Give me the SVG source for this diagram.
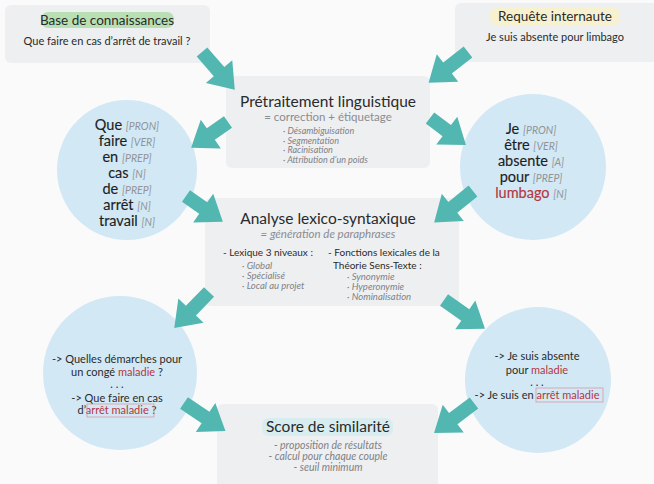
<svg xmlns="http://www.w3.org/2000/svg" width="654" height="484" viewBox="0 0 654 484">
<style>
.bg{fill:#fafafa}
.box{fill:#eeeff1}
.circ{fill:#d2e8f5}
.arr{fill:#52b7b1}
text{font-family:Lato,"Open Sans","Liberation Sans",sans-serif;fill:#2a2a2a}
.h{font-size:15.5px;text-anchor:middle}
.h2{font-size:13.5px;text-anchor:middle}
.s{font-size:11px;text-anchor:middle}
.sub{font-size:11.5px;fill:#8a8c90;text-anchor:middle}
.it{font-style:italic}
.b{font-size:9px;font-style:italic;fill:#7f8185}
.w{font-size:14.5px;text-anchor:middle;fill:#1e1e1e;stroke:#1e1e1e;stroke-width:0.15}
.t{font-size:10.5px;font-style:italic;fill:#909398;stroke:none}
.red{fill:#b5363e}
.redw{fill:#b5363e;stroke:#b5363e}
.m{font-size:10px}
.mark{fill:none;stroke:#d49aa0;stroke-width:0.8}
</style>
<defs>
<path id="a50" d="M0,-7 L26,-7 L26,-17.5 L50,0 L26,17.5 L26,7 L0,7 Z"/>
<path id="a45" d="M0,-7 L21,-7 L21,-17.5 L45,0 L21,17.5 L21,7 L0,7 Z"/>
</defs>
<rect class="bg" x="0" y="0" width="654" height="484"/>

<g id="base">
<rect class="box" x="5" y="5" width="205" height="58" rx="6"/>
<rect x="41" y="12" width="133" height="16" rx="7" fill="#b9e0b4"/>
<text class="h2" x="107" y="25">Base de connaissances</text>
<text class="s" x="107" y="45">Que faire en cas d’arrêt de travail ?</text>
</g>

<g id="requete">
<rect class="box" x="455" y="3" width="205" height="59" rx="6"/>
<rect x="490" y="8" width="130" height="17" rx="7" fill="#f8f1cf"/>
<text class="h2" x="555" y="21">Requête internaute</text>
<text class="s" x="555" y="41">Je suis absente pour limbago</text>
</g>

<g id="pretraitement">
<rect class="box" x="226" y="76" width="204" height="92" rx="6"/>
<text class="h" x="328" y="107">Prétraitement linguistique</text>
<text class="sub" x="328" y="121">= correction + étiquetage</text>
<text class="b" x="283" y="134">· Désambiguisation</text>
<text class="b" x="283" y="143.5">· Segmentation</text>
<text class="b" x="283" y="153">· Racinisation</text>
<text class="b" x="283" y="162.5">· Attribution d’un poids</text>
</g>

<g id="tagsG">
<circle class="circ" cx="127" cy="170" r="70"/>
<text class="w" x="127" y="130">Que <tspan class="t">[PRON]</tspan></text>
<text class="w" x="127" y="146">faire <tspan class="t">[VER]</tspan></text>
<text class="w" x="127" y="162">en <tspan class="t">[PREP]</tspan></text>
<text class="w" x="127" y="178">cas <tspan class="t">[N]</tspan></text>
<text class="w" x="127" y="194">de <tspan class="t">[PREP]</tspan></text>
<text class="w" x="127" y="210">arrêt <tspan class="t">[N]</tspan></text>
<text class="w" x="127" y="226">travail <tspan class="t">[N]</tspan></text>
</g>

<g id="tagsD">
<circle class="circ" cx="533" cy="167" r="73"/>
<text class="w" x="531" y="134">Je <tspan class="t">[PRON]</tspan></text>
<text class="w" x="531" y="150">être <tspan class="t">[VER]</tspan></text>
<text class="w" x="531" y="166">absente <tspan class="t">[A]</tspan></text>
<text class="w" x="531" y="182">pour <tspan class="t">[PREP]</tspan></text>
<text class="w" x="531" y="198"><tspan class="redw">lumbago</tspan> <tspan class="t">[N]</tspan></text>
</g>

<g id="analyse">
<rect class="box" x="205" y="198" width="254" height="108" rx="6"/>
<text class="h" x="328" y="224">Analyse lexico-syntaxique</text>
<text class="sub it" x="328" y="238">= génération de paraphrases</text>
<text class="m" x="223" y="256">- Lexique 3 niveaux :</text>
<text class="b" x="242" y="268.5" style="font-size:9.5px">· Global</text>
<text class="b" x="242" y="278.5" style="font-size:9.5px">· Spécialisé</text>
<text class="b" x="242" y="288.5" style="font-size:9.5px">· Local au projet</text>
<text class="m" x="328" y="256">- Fonctions lexicales de la</text>
<text class="m" x="333" y="269">Théorie Sens-Texte :</text>
<text class="b" x="347" y="279.5" style="font-size:9.5px">· Synonymie</text>
<text class="b" x="347" y="289.5" style="font-size:9.5px">· Hyperonymie</text>
<text class="b" x="347" y="299.5" style="font-size:9.5px">· Nominalisation</text>
</g>

<g id="paraG">
<circle class="circ" cx="120" cy="373" r="77"/>
<text class="s" x="117" y="363">-&gt; Quelles démarches pour</text>
<text class="s" x="117" y="376">un congé <tspan class="red">maladie</tspan> ?</text>
<text class="s" x="117" y="388">. . .</text>
<text class="s" x="117" y="402">-&gt; Que faire en cas</text>
<text class="s" x="117" y="414">d’<tspan class="red">arrêt maladie</tspan> ?</text>
<rect class="mark" x="87" y="404" width="67" height="13"/>
</g>

<g id="paraD">
<circle class="circ" cx="538" cy="380" r="73"/>
<text class="s" x="537" y="360">-&gt; Je suis absente</text>
<text class="s" x="537" y="374">pour <tspan class="red">maladie</tspan></text>
<text class="s" x="537" y="386">. . .</text>
<text class="s" x="537" y="399">-&gt; Je suis en <tspan class="red">arrêt maladie</tspan></text>
<rect class="mark" x="536" y="388" width="67" height="14"/>
</g>

<g id="score">
<rect class="box" x="217" y="404" width="221" height="86" rx="6"/>
<rect x="262" y="418" width="131" height="18" rx="7" fill="#d8edf0"/>
<text class="h" x="328" y="432">Score de similarité</text>
<text class="b" x="328" y="449" text-anchor="middle" style="font-size:10.5px">- proposition de résultats</text>
<text class="b" x="328" y="460" text-anchor="middle" style="font-size:10.5px">- calcul pour chaque couple</text>
<text class="b" x="328" y="471" text-anchor="middle" style="font-size:10.5px">- seuil minimum</text>
</g>

<g id="connectors" class="arr">
<use href="#a50" transform="translate(202,52) rotate(49)"/>
<use href="#a50" transform="translate(468,52) rotate(142)"/>
<use href="#a45" transform="translate(228,122) rotate(145)"/>
<use href="#a45" transform="translate(186,196) rotate(35)"/>
<use href="#a45" transform="translate(430,118) rotate(37)"/>
<use href="#a50" transform="translate(473,191) rotate(141)"/>
<use href="#a50" transform="translate(209,292) rotate(134)"/>
<use href="#a50" transform="translate(444,300) rotate(35)"/>
<use href="#a50" transform="translate(184,403) rotate(34)"/>
<use href="#a50" transform="translate(474,403) rotate(143)"/>
</g>
</svg>
